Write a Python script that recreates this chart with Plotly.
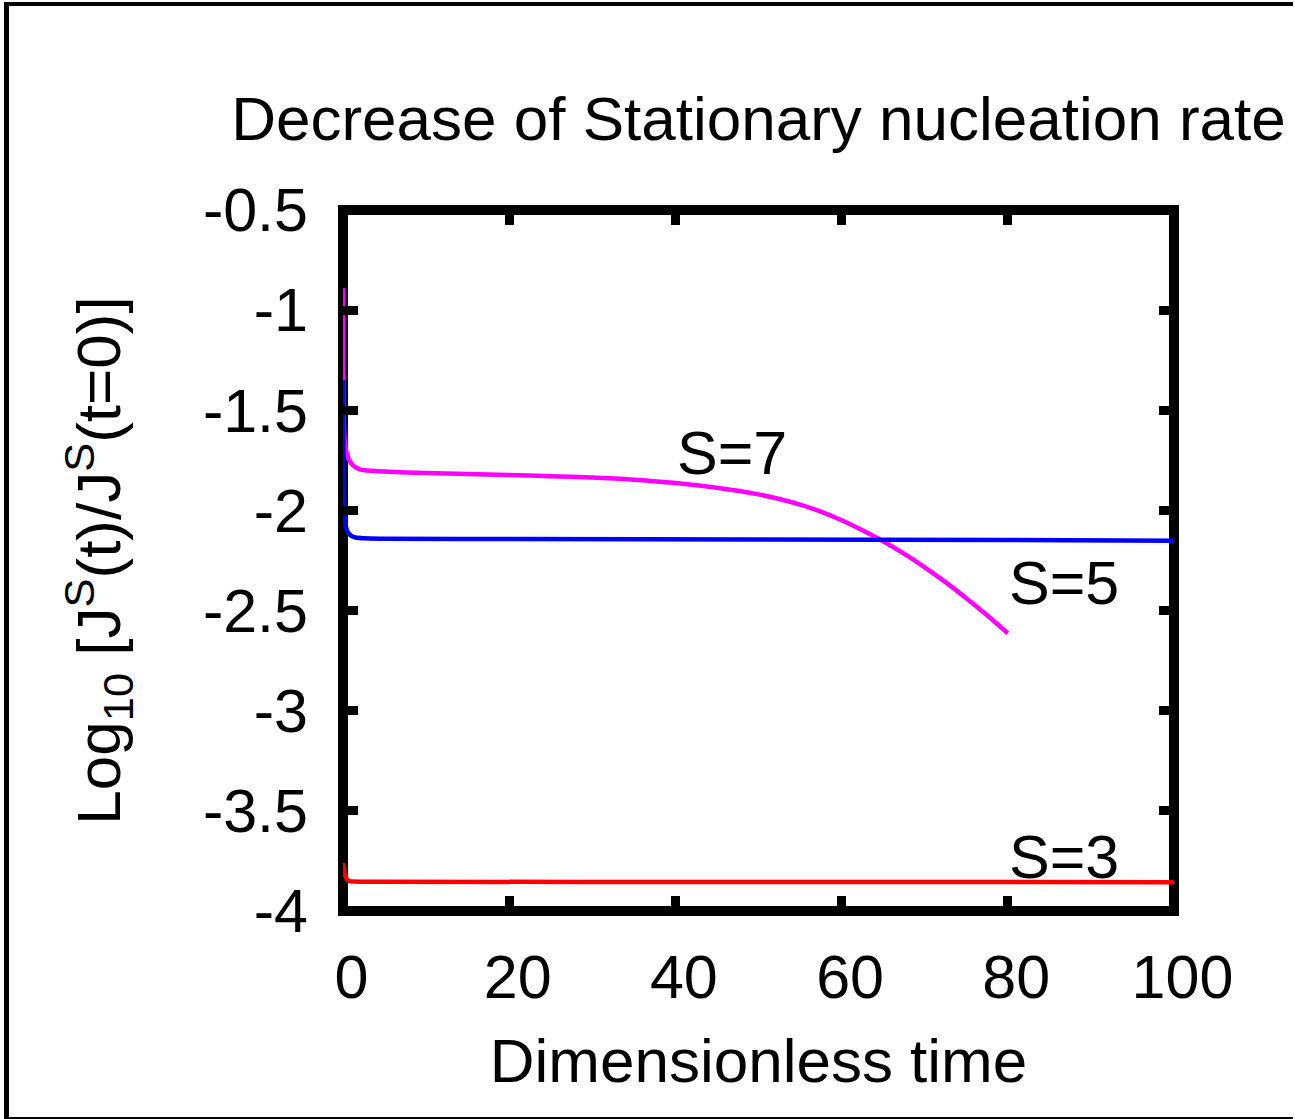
import plotly.graph_objects as go

# ---- data ----
t_s7 = [0, 0.03, 0.06, 0.1, 0.15, 0.25, 0.4, 0.6, 0.9, 1.3, 2, 3, 5, 10, 15, 20, 25, 30, 35, 40,
        45, 50, 52.5, 55, 57.5, 60, 62.5, 65, 67.5, 70, 72.5, 75, 77.5, 80]
y_s7 = [-0.89, -1.25, -1.45, -1.56, -1.62, -1.67, -1.705, -1.735, -1.76, -1.778, -1.795, -1.801,
        -1.806, -1.813, -1.818, -1.823, -1.829, -1.836, -1.847, -1.863,
        -1.887, -1.92, -1.943, -1.971, -2.006, -2.049, -2.099, -2.154, -2.216, -2.284, -2.358,
        -2.438, -2.523, -2.613]

t_s5 = [0, 0.03, 0.06, 0.1, 0.15, 0.25, 0.4, 0.6, 1, 1.5, 2.5, 5, 20, 50, 80, 100]
y_s5 = [-1.35, -1.6, -1.78, -1.9, -1.98, -2.05, -2.09, -2.11, -2.127, -2.135, -2.139, -2.141,
        -2.143, -2.145, -2.148, -2.151]

t_s3 = [0, 0.1, 0.2, 0.35, 0.5, 0.8, 1.2, 3, 50, 100]
y_s3 = [-3.76, -3.79, -3.815, -3.833, -3.843, -3.851, -3.853, -3.854, -3.855, -3.856]

x_ticks = [0, 20, 40, 60, 80, 100]
x_ticklabels = ["0", "20", "40", "60", "80", "100"]
y_ticks = [-0.5, -1, -1.5, -2, -2.5, -3, -3.5, -4]
y_ticklabels = ["-0.5", "-1", "-1.5", "-2", "-2.5", "-3", "-3.5", "-4"]

labels = ["S=7", "S=5", "S=3"]
label_x = [46.8, 86.8, 86.8]
label_y = [-1.712, -2.36, -3.73]

title_text = "Decrease of Stationary nucleation rate"
x_title = "Dimensionless time"
y_title = "Log<sub>10</sub> [J<sup>S</sup>(t)/J<sup>S</sup>(t=0)]"

# ---- layout geometry ----
W, H = 1295, 1119
L, R, T, B = 343, 1174, 210, 911
FONT = "Liberation Sans, Arial, Helvetica, sans-serif"
FS = 61
FS_T = 62


def px(xp):
    return (xp - L) / (R - L)


def py(yp):
    return (B - yp) / (B - T)


fig = go.Figure()
fig.add_trace(go.Scatter(x=t_s7, y=y_s7, mode="lines",
                         line=dict(color="#ff00ff", width=4.5, shape="spline", smoothing=0.8),
                         name="S=7", showlegend=False))
fig.add_trace(go.Scatter(x=t_s5, y=y_s5, mode="lines",
                         line=dict(color="#0000ff", width=4.5, shape="spline", smoothing=0.8),
                         name="S=5", showlegend=False))
fig.add_trace(go.Scatter(x=t_s3, y=y_s3, mode="lines",
                         line=dict(color="#ff0000", width=4.5, shape="spline", smoothing=0.8),
                         name="S=3", showlegend=False))

for txt, lx, ly in zip(labels, label_x, label_y):
    fig.add_annotation(x=lx, y=ly, text=txt, showarrow=False, xanchor="center", yanchor="middle",
                       font=dict(family=FONT, size=FS, color="black"))

shapes = [
    # plot frame
    dict(type="rect", xref="paper", yref="paper", x0=0, x1=1, y0=0, y1=1,
         line=dict(color="black", width=10), layer="below"),
    # page border (left, top, bottom)
    dict(type="line", xref="paper", yref="paper", x0=px(6.5), x1=px(6.5), y0=py(1119), y1=py(2),
         line=dict(color="black", width=5), layer="above"),
    dict(type="line", xref="paper", yref="paper", x0=px(4), x1=px(1293), y0=py(4), y1=py(4),
         line=dict(color="black", width=4), layer="above"),
    dict(type="line", xref="paper", yref="paper", x0=px(4), x1=px(1293), y0=py(1118), y1=py(1118),
         line=dict(color="black", width=2), layer="above"),
]

axis_common = dict(showgrid=False, zeroline=False, showline=False, ticks="inside", ticklen=15,
                   tickwidth=9, tickcolor="black", mirror="ticks",
                   tickfont=dict(family=FONT, size=FS, color="black"))

fig.update_layout(
    width=W, height=H,
    margin=dict(l=L, r=W - R, t=T, b=H - B, autoexpand=False),
    paper_bgcolor="white", plot_bgcolor="rgba(0,0,0,0)",
    title=dict(text=title_text, x=0.5, xref="paper", xanchor="center",
               y=1 - 118 / H, yref="container", yanchor="middle",
               font=dict(family=FONT, size=FS_T, color="black")),
    xaxis=dict(range=[0, 100], tickvals=x_ticks,
               ticktext=["\u00a0" + s for s in x_ticklabels],
               title=dict(text=x_title, standoff=28, font=dict(family=FONT, size=FS_T, color="black")),
               ticklabelstandoff=25, **axis_common),
    yaxis=dict(range=[-4, -0.5], tickvals=y_ticks, ticktext=y_ticklabels,
               title=dict(text=y_title, standoff=62, font=dict(family=FONT, size=FS_T, color="black")),
               ticklabelstandoff=34, **axis_common),
    shapes=shapes,
    showlegend=False,
)

fig.write_html("out.html")
